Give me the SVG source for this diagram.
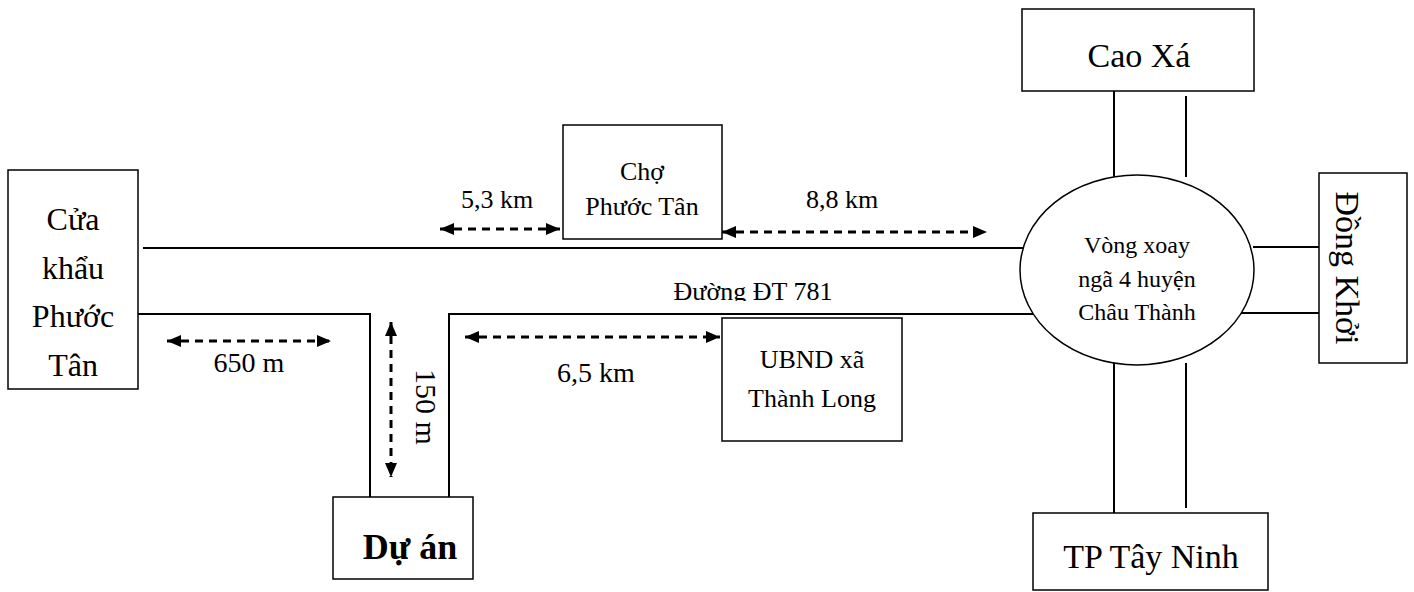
<svg xmlns="http://www.w3.org/2000/svg" width="1414" height="592" viewBox="0 0 1414 592">
<style>
.box{fill:#fff;stroke:#000;stroke-width:1.5}
.road{stroke:#000;stroke-width:2;fill:none}
.dim{stroke:#000;stroke-width:3;stroke-dasharray:8 6;fill:none}
text{font-family:"Liberation Serif","Times New Roman",serif;fill:#000}
.t32{font-size:32px}
.t34{font-size:34px}
.t24{font-size:24px}
.t26{font-size:26px}
.t28{font-size:28px}
</style>
<defs>
<marker id="ah" viewBox="0 0 14 12" refX="14" refY="6" markerWidth="14" markerHeight="12" markerUnits="userSpaceOnUse" orient="auto-start-reverse">
<path d="M0,0 L14,6 L0,12 Z" fill="#000"/>
</marker>
<clipPath id="clipDT"><rect x="600" y="270" width="300" height="31"/></clipPath>
</defs>
<g id="connectors">
<line class="road" x1="143" y1="248" x2="1024" y2="248"/>
<polyline class="road" points="138,314 370,314 370,497"/>
<polyline class="road" points="449,497 449,314 1033,314"/>
<line class="road" x1="1114" y1="91" x2="1114" y2="177"/>
<line class="road" x1="1186" y1="96" x2="1186" y2="177"/>
<line class="road" x1="1114" y1="363" x2="1114" y2="513"/>
<line class="road" x1="1186" y1="363" x2="1186" y2="508"/>
<line class="road" x1="1253" y1="247" x2="1320" y2="247"/>
<line class="road" x1="1241" y1="313" x2="1320" y2="313"/>
<line class="dim" x1="440" y1="229" x2="560" y2="229" marker-start="url(#ah)" marker-end="url(#ah)"/>
<line class="dim" x1="722" y1="232" x2="987" y2="232" marker-start="url(#ah)" marker-end="url(#ah)"/>
<line class="dim" x1="167" y1="341" x2="331" y2="341" marker-start="url(#ah)" marker-end="url(#ah)"/>
<line class="dim" x1="391" y1="322" x2="391" y2="477" marker-start="url(#ah)" marker-end="url(#ah)"/>
<line class="dim" x1="465" y1="337" x2="720" y2="337" marker-start="url(#ah)" marker-end="url(#ah)"/>
<text class="t26" x="497" y="208" text-anchor="middle">5,3 km</text>
<text class="t26" x="842" y="208" text-anchor="middle">8,8 km</text>
<text class="t28" x="249" y="372" text-anchor="middle">650 m</text>
<text class="t28" x="596" y="382" text-anchor="middle">6,5 km</text>
<text style="font-size:30px" transform="translate(416,407) rotate(90)" text-anchor="middle">150 m</text>
<text style="font-size:26px" x="753" y="300" text-anchor="middle" clip-path="url(#clipDT)">Đường ĐT 781</text>
</g>
<g id="cua-khau">
<rect class="box" x="8" y="170" width="130" height="219"/>
<text class="t32" text-anchor="middle" x="73" y="230">Cửa</text>
<text class="t32" text-anchor="middle" x="73" y="279">khẩu</text>
<text class="t32" text-anchor="middle" x="73" y="327">Phước</text>
<text class="t32" text-anchor="middle" x="73" y="376">Tân</text>
</g>
<g id="cho">
<rect class="box" x="563" y="125" width="159" height="114"/>
<text class="t26" text-anchor="middle" x="642" y="180">Chợ</text>
<text class="t26" text-anchor="middle" x="642" y="215">Phước Tân</text>
</g>
<g id="ubnd">
<rect class="box" x="722" y="318" width="180" height="123"/>
<text class="t26" text-anchor="middle" x="812" y="368">UBND xã</text>
<text class="t26" text-anchor="middle" x="812" y="407">Thành Long</text>
</g>
<g id="du-an">
<rect class="box" x="333" y="497" width="140" height="82"/>
<text style="font-size:36px;font-weight:bold" text-anchor="middle" x="410" y="559">Dự án</text>
</g>
<g id="vong-xoay">
<ellipse class="box" cx="1137" cy="270" rx="117" ry="95"/>
<text class="t24" text-anchor="middle" x="1137" y="253">Vòng xoay</text>
<text class="t24" text-anchor="middle" x="1137" y="287">ngã 4 huyện</text>
<text class="t24" text-anchor="middle" x="1137" y="320">Châu Thành</text>
</g>
<g id="cao-xa">
<rect class="box" x="1022" y="9" width="232" height="82"/>
<text class="t34" text-anchor="middle" x="1139" y="67">Cao Xá</text>
</g>
<g id="dong-khoi">
<rect class="box" x="1319" y="173" width="88" height="190"/>
<text class="t34" text-anchor="middle" transform="translate(1336,268) rotate(90)">Đồng Khởi</text>
</g>
<g id="tp-tay-ninh">
<rect class="box" x="1033" y="513" width="235" height="77"/>
<text class="t34" text-anchor="middle" x="1151" y="568">TP Tây Ninh</text>
</g>
</svg>
